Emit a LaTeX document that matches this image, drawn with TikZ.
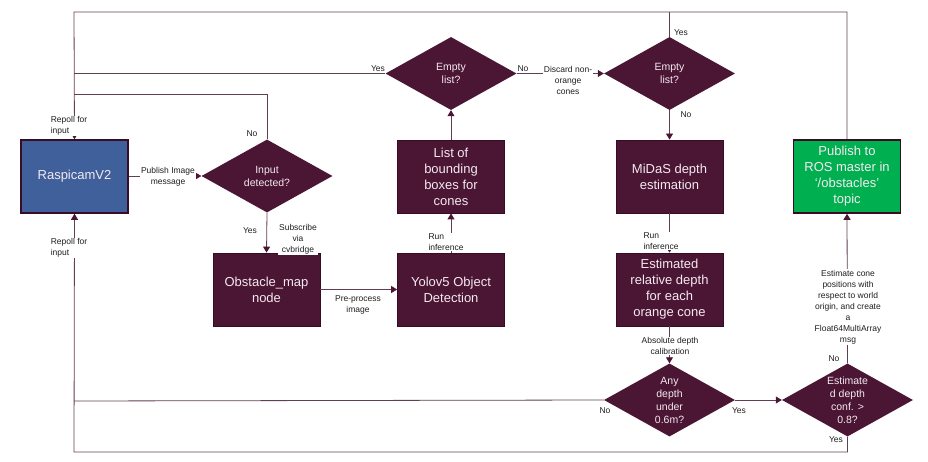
\documentclass[tikz,border=0pt]{standalone}
\usepackage{fontspec}
\setmainfont{Liberation Sans}
\usetikzlibrary{shapes.geometric, arrows.meta, positioning, calc}
\definecolor{flmaroon}{RGB}{75,21,52}
\definecolor{flmaroondk}{RGB}{55,12,36}
\definecolor{flline}{RGB}{98,62,84}
\definecolor{flblue}{RGB}{64,96,155}
\definecolor{flgreen}{RGB}{0,176,80}
\definecolor{fltext}{RGB}{244,234,240}

\tikzset{
  procbox/.style={rectangle, draw=flmaroondk, line width=0.8pt, fill=flmaroon, text=fltext,
    minimum width=107pt, minimum height=73pt, align=center, inner sep=2pt,
    font=\fontsize{13}{16}\selectfont},
  decbox/.style={diamond, fill=flmaroon, minimum width=131pt, minimum height=73pt, inner sep=0pt},
  dectext/.style={text=fltext, align=center, inner sep=0pt, font=\fontsize{10.5}{13}\selectfont},
  conn/.style={draw=flline, line width=0.8pt},
  arr/.style={conn, -{Triangle[width=7pt,length=6pt,color=flmaroon]}},
  lbl/.style={fill=white, inner sep=0.8pt, align=center, text=black!88,
    font=\fontsize{8.5}{11}\selectfont}
}

\begin{document}
\begin{tikzpicture}[x=1pt,y=-1pt]
\useasboundingbox (0,0) rectangle (928,462);

% Process boxes
\node[procbox, fill=flblue, line width=1.6pt] (cam) at (74.5,176.5) {RaspicamV2};
\node[procbox] (obs) at (266.5,289.5) {Obstacle\_map\\node};
\node[procbox] (yolo) at (451,289.5) {Yolov5 Object\\Detection};
\node[procbox] (bbox) at (451,176.5) {List of\\bounding\\boxes for\\cones};
\node[procbox] (midas) at (669.5,176.5) {MiDaS depth\\estimation};
\node[procbox] (reldep) at (669.5,289.5) {Estimated\\relative depth\\for each\\orange cone};
\node[procbox, fill=flgreen, line width=1.6pt] (pub) at (847,176.5) {Publish to\\ROS master in\\`/obstacles'\\topic};

% Decisions
\node[decbox] (inp) at (267,176) {};
\node[dectext] (inptxt) at (inp) {Input\\detected?};
\node[decbox] (empt1) at (451,73.5) {};
\node[dectext] (empt1txt) at (empt1) {Empty\\list?};
\node[decbox] (empt2) at (669.5,73.5) {};
\node[dectext] (empt2txt) at (empt2) {Empty\\list?};
\node[decbox] (anyd) at (669.5,400) {};
\node[dectext] (anydtxt) at (anyd) {Any\\depth\\under\\0.6m?};
\node[decbox] (conf) at (847.5,400) {};
\node[dectext] (conftxt) at (conf) {Estimate\\d depth\\conf. >\\0.8?};

% Loop corners
\coordinate (topL) at (74,12);
\coordinate (yesL) at (74,73.5);
\coordinate (noL) at (74,94);
\coordinate (botL) at (74,452);
\coordinate (noB) at (74,401);

% Main flow
\draw[arr] (cam.east) -- (inp.west);
\draw[arr] (inp.south) -- (obs.north);
\draw[arr] (obs.east) -- (yolo.west);
\draw[arr] (yolo.north) -- (bbox.south);
\draw[arr] (bbox.north) -- (empt1.south);
\draw[arr] (empt1.east) -- (empt2.west);
\draw[arr] (empt2.south) -- (midas.north);
\draw[arr] (midas.south) -- (reldep.north);
\draw[arr] (reldep.south) -- (anyd.north);
\draw[arr] (anyd.east) -- (conf.west);
\draw[arr] (conf.north) -- (pub.south);

% Repoll loops
\draw[arr] (pub.north) |- (topL) -- (cam.north);
\draw[conn] (empt2.north) -- (empt2.north |- topL);
\draw[conn] (empt1.west) -- (yesL);
\draw[conn] (inp.north) |- (noL);
\draw[arr] (conf.south) |- (botL) -- (cam.south);
\draw[conn] (anyd.west) -- (noB);

% Labels
\node[lbl] (lpub) at (168,177) {Publish Image\\message};
\node[lbl, align=left] (lrep1) at (69,126) {Repoll for\\input};
\node[lbl, align=left] (lrep2) at (69,248) {Repoll for\\input};
\node[lbl] (linpno) at (252,134) {No};
\node[lbl] (linpyes) at (250,231) {Yes};
\node[lbl] (lsub) at (298,239) {Subscribe\\via\\cvbridge};
\node[lbl] (lpre) at (358,305) {Pre-process\\image};
\node[lbl, align=left] (lrun1) at (446,242) {Run\\inference};
\node[lbl] (le1yes) at (378,69) {Yes};
\node[lbl] (le1no) at (523,69) {No};
\node[lbl] (ldisc) at (568,80) {Discard non-\\orange\\cones};
\node[lbl] (le2yes) at (681,33) {Yes};
\node[lbl] (le2no) at (686,115) {No};
\node[lbl, align=left] (lrun2) at (661,241) {Run\\inference};
\node[lbl] (labs) at (670,346) {Absolute depth\\calibration};
\node[lbl] (lanyno) at (605,411) {No};
\node[lbl] (lanyyes) at (739,411) {Yes};
\node[lbl] (lconfno) at (834,359) {No};
\node[lbl] (lconfyes) at (836,440) {Yes};
\node[lbl] (lest) at (848,307) {Estimate cone\\positions with\\respect to world\\origin, and create\\a\\Float64MultiArray\\msg};
\end{tikzpicture}
\end{document}
